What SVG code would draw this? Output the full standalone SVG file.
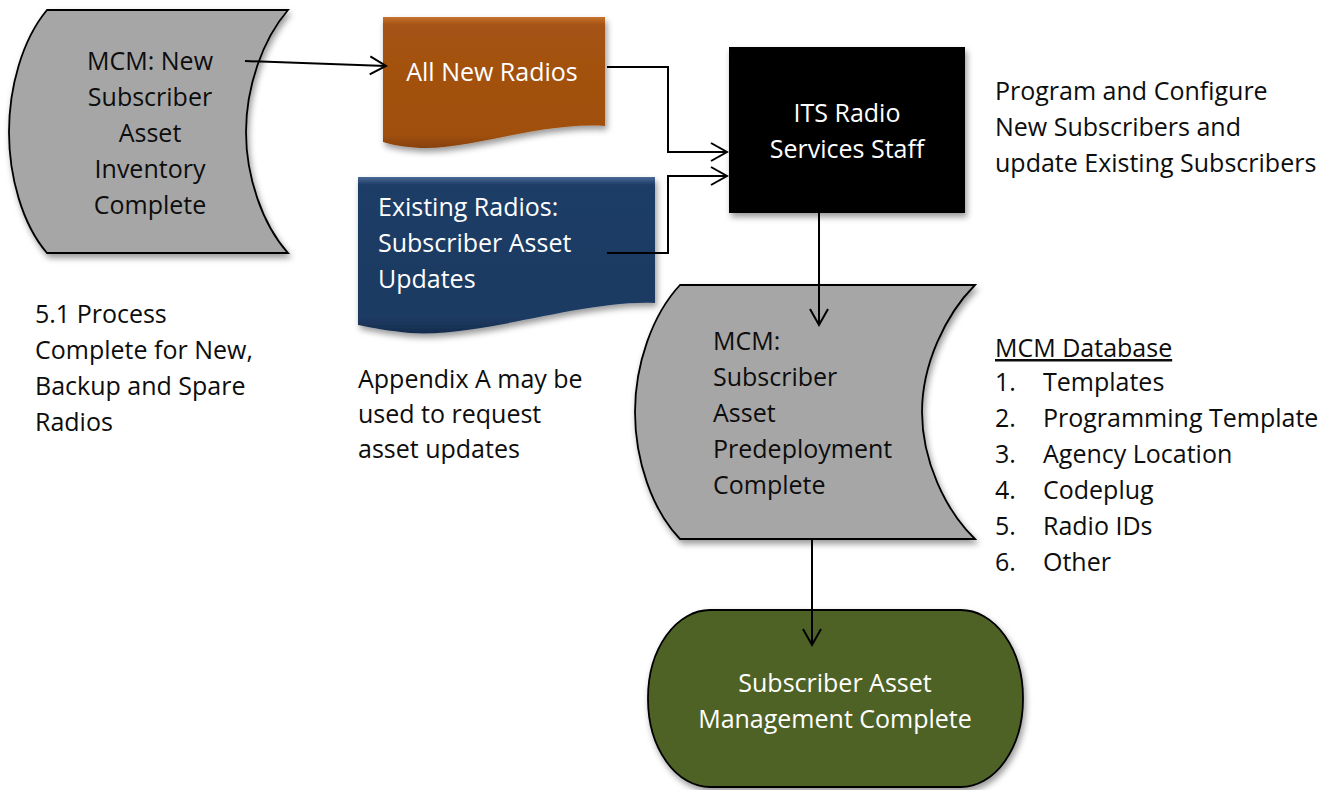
<svg xmlns="http://www.w3.org/2000/svg" width="1342" height="790" viewBox="0 0 1342 790">
  <defs>
    <style>
      .t { font-family: "Open Sans", "Liberation Sans", sans-serif; font-size: 25px; fill: #0d0d0d; }
      .w { fill: #ffffff; }
      .c { text-anchor: middle; }
      .edge { fill: none; stroke: #000; stroke-width: 2; }
      .store { fill: #a6a6a6; stroke: #000; stroke-width: 1.8; }
    </style>
    <filter id="shadow" x="-10%" y="-10%" width="125%" height="130%">
      <feDropShadow dx="2" dy="4" stdDeviation="3" flood-color="#000" flood-opacity="0.4"/>
    </filter>
    <linearGradient id="orange" x1="0" y1="0" x2="0" y2="1">
      <stop offset="0" stop-color="#c8732f"/>
      <stop offset="0.06" stop-color="#a55212"/>
      <stop offset="0.9" stop-color="#a0500f"/>
      <stop offset="1" stop-color="#86410b"/>
    </linearGradient>
    <linearGradient id="navy" x1="0" y1="0" x2="0" y2="1">
      <stop offset="0" stop-color="#4a6a96"/>
      <stop offset="0.05" stop-color="#1f3c66"/>
      <stop offset="0.9" stop-color="#1e3a63"/>
      <stop offset="1" stop-color="#152b4c"/>
    </linearGradient>
    <marker id="arrow" markerUnits="userSpaceOnUse" markerWidth="20" markerHeight="22" refX="17" refY="10" orient="auto">
      <path d="M1,1 L17,10 L1,19" fill="none" stroke="#000" stroke-width="2"/>
    </marker>
  </defs>

  <rect width="1342" height="790" fill="#ffffff"/>

  <!-- inventory store -->
  <g id="node-inventory">
    <path class="store" filter="url(#shadow)" d="M47,10 L288,10 C262,40 246,88 246,132 C246,176 262,224 288,253 L47,253 C22,224 9,176 9,132 C9,88 22,40 47,10 Z"/>
    <text class="t c" x="150" y="70">MCM: New</text>
    <text class="t c" x="150" y="106">Subscriber</text>
    <text class="t c" x="150" y="142">Asset</text>
    <text class="t c" x="150" y="178">Inventory</text>
    <text class="t c" x="150" y="214">Complete</text>
  </g>

  <!-- new radios document -->
  <g id="node-new-radios">
    <path filter="url(#shadow)" fill="url(#orange)" d="M383,17 L605,17 L605,126 C540,122 470,150 420,148 C405,147 392,145 383,142 Z"/>
    <text class="t w c" x="492" y="81">All New Radios</text>
  </g>

  <!-- existing radios document -->
  <g id="node-existing-radios">
    <path filter="url(#shadow)" fill="url(#navy)" d="M358,177 L655,177 L655,303 C580,300 480,338 410,333 C390,331 372,328 358,325 Z"/>
    <text class="t w" x="378" y="216">Existing Radios:</text>
    <text class="t w" x="378" y="252">Subscriber Asset</text>
    <text class="t w" x="378" y="288">Updates</text>
  </g>

  <!-- staff process -->
  <g id="node-staff">
    <rect x="729" y="47" width="236" height="166" fill="#000" filter="url(#shadow)"/>
    <text class="t w c" x="847" y="122">ITS Radio</text>
    <text class="t w c" x="847" y="158">Services Staff</text>
  </g>

  <!-- predeployment store -->
  <g id="node-predeployment">
    <path class="store" filter="url(#shadow)" d="M680,285 L975,285 C945,315 922,365 922,412 C922,460 945,510 975,539 L680,539 C652,510 635,460 635,412 C635,365 652,315 680,285 Z"/>
    <text class="t" x="713" y="350">MCM:</text>
    <text class="t" x="713" y="386">Subscriber</text>
    <text class="t" x="713" y="422">Asset</text>
    <text class="t" x="713" y="458">Predeployment</text>
    <text class="t" x="713" y="494">Complete</text>
  </g>

  <!-- terminator -->
  <g id="node-complete">
    <rect x="648" y="610" width="375" height="177" rx="62" ry="88" fill="#4f6228" stroke="#000" stroke-width="1.8" filter="url(#shadow)"/>
    <text class="t w c" x="835" y="692">Subscriber Asset</text>
    <text class="t w c" x="835" y="728">Management Complete</text>
  </g>

  <!-- notes -->
  <g id="note-staff">
    <text class="t" x="995" y="100">Program and Configure</text>
    <text class="t" x="995" y="136">New Subscribers and</text>
    <text class="t" x="995" y="172">update Existing Subscribers</text>
  </g>

  <g id="note-database">
    <text class="t" x="995" y="357" text-decoration="underline">MCM Database</text>
    <text class="t" x="995" y="391">1.</text><text class="t" x="1043" y="391">Templates</text>
    <text class="t" x="995" y="427">2.</text><text class="t" x="1043" y="427">Programming Template</text>
    <text class="t" x="995" y="463">3.</text><text class="t" x="1043" y="463">Agency Location</text>
    <text class="t" x="995" y="499">4.</text><text class="t" x="1043" y="499">Codeplug</text>
    <text class="t" x="995" y="535">5.</text><text class="t" x="1043" y="535">Radio IDs</text>
    <text class="t" x="995" y="571">6.</text><text class="t" x="1043" y="571">Other</text>
  </g>

  <g id="note-process">
    <text class="t" x="35" y="323">5.1 Process</text>
    <text class="t" x="35" y="359">Complete for New,</text>
    <text class="t" x="35" y="395">Backup and Spare</text>
    <text class="t" x="35" y="431">Radios</text>
  </g>

  <g id="note-appendix">
    <text class="t" x="358" y="388">Appendix A may be</text>
    <text class="t" x="358" y="423">used to request</text>
    <text class="t" x="358" y="458">asset updates</text>
  </g>

  <!-- connectors, drawn on top of the shapes -->
  <g id="connectors">
    <path class="edge" d="M245,61 L386,66" marker-end="url(#arrow)"/>
    <path class="edge" d="M607,67 L668,67 L668,152 L727,152" marker-end="url(#arrow)"/>
    <path class="edge" d="M607,253 L668,253 L668,176 L727,176" marker-end="url(#arrow)"/>
    <path class="edge" d="M819,213 L819,325" marker-end="url(#arrow)"/>
    <path class="edge" d="M812,539 L812,645" marker-end="url(#arrow)"/>
  </g>
</svg>
